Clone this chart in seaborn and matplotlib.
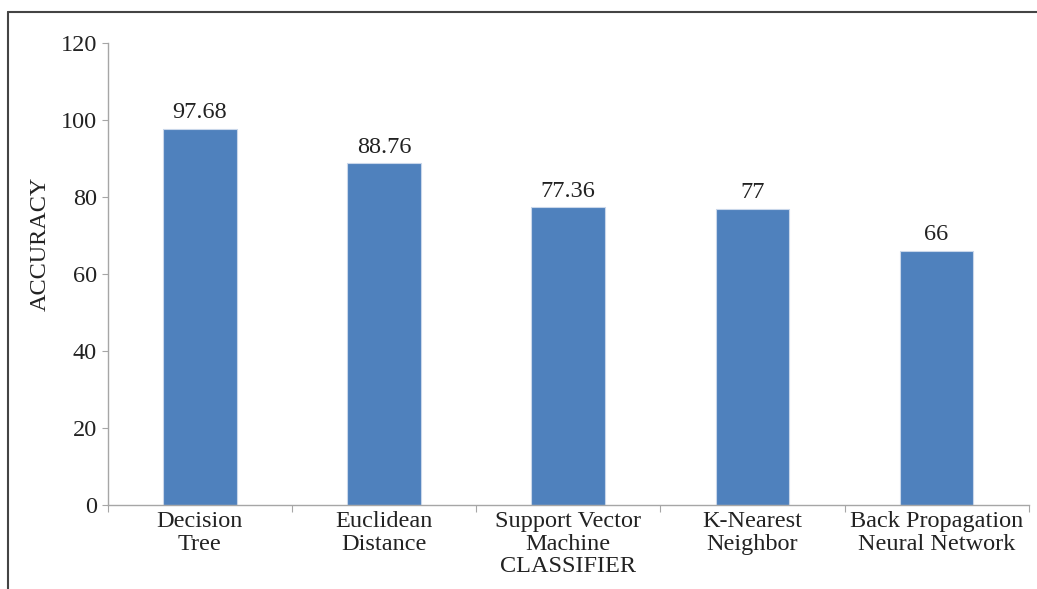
import pandas as pd
import matplotlib.pyplot as plt
import seaborn as sns
from matplotlib.lines import Line2D

# chart data
classifiers = ["Decision\nTree", "Euclidean\nDistance", "Support Vector\nMachine",
               "K-Nearest\nNeighbor", "Back Propagation\nNeural Network"]
accuracy = [97.68, 88.76, 77.36, 77, 66]
value_labels = ["97.68", "88.76", "77.36", "77", "66"]
y_ticks = [0, 20, 40, 60, 80, 100, 120]

df = pd.DataFrame({"classifier": classifiers, "accuracy": accuracy})

sns.set_style("white")
plt.rcParams['font.family'] = ['Liberation Serif', 'DejaVu Serif']

fig = plt.figure(figsize=(10.37, 5.89), dpi=100)
ax = fig.add_axes([0.104, 0.1426, 0.888, 0.7844])

sns.barplot(data=df, x="classifier", y="accuracy", color="#4f81bd",
            width=0.4, saturation=1, edgecolor="#c9d7ea", linewidth=0.8, ax=ax)

for bar, lab in zip(ax.patches, value_labels):
    ax.annotate(lab, (bar.get_x() + bar.get_width() / 2, bar.get_height()),
                xytext=(0, 4), textcoords="offset points",
                ha="center", va="bottom", fontsize=17.5, color="#222222")

ax.set_xlim(-0.5, 4.5)
ax.set_ylim(0, 120)
ax.set_yticks(y_ticks)
ax.set_yticklabels([str(v) for v in y_ticks], fontsize=17.5, color="#222222")
ax.tick_params(axis="y", length=4, width=0.8, color="#a6a6a6", pad=4, left=True)
ax.tick_params(axis="x", which="major", length=0, labelsize=17.5,
               labelcolor="#222222", pad=4)
for t in ax.get_xticklabels():
    t.set_linespacing(1.15)
ax.set_xticks([i - 0.5 for i in range(6)], minor=True)
ax.tick_params(axis="x", which="minor", length=5, width=0.8,
               color="#a6a6a6", bottom=True)

for s in ["top", "right"]:
    ax.spines[s].set_visible(False)
for s in ["left", "bottom"]:
    ax.spines[s].set_color("#a6a6a6")
    ax.spines[s].set_linewidth(1)

ax.set_xlabel("CLASSIFIER", fontsize=17.5, color="#222222", labelpad=1)
ax.set_ylabel("ACCURACY", fontsize=17.5, color="#222222")
ax.yaxis.set_label_coords(-0.062, 0.565)

# partial frame around the figure
fig.add_artist(Line2D([8 / 1037, 1], [1 - 12 / 589, 1 - 12 / 589],
                      transform=fig.transFigure, color="#444444", linewidth=1.5))
fig.add_artist(Line2D([8 / 1037, 8 / 1037], [0, 1 - 12 / 589],
                      transform=fig.transFigure, color="#444444", linewidth=1.5))

plt.savefig("out.png", dpi=100)
plt.close()
